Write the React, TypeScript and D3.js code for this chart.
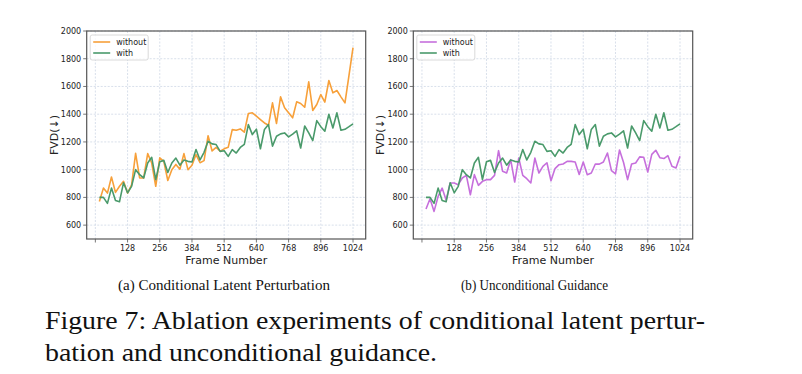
import React from "react";
import * as d3 from "d3";

const frames: number[] = Array.from({ length: 64 }, (_, i) => (i + 1) * 16);

const withSeries: number[] = [
  800, 800, 757, 867, 778, 769, 906, 833, 880, 1000,
  964, 940, 1048, 1089, 928, 1057, 1067, 980, 1048, 1084,
  1032, 1070, 1060, 1055, 1145, 1070, 1125, 1205, 1186, 1181,
  1132, 1137, 1096, 1144, 1120, 1160, 1183, 1325, 1253, 1292,
  1151, 1290, 1325, 1170, 1241, 1258, 1265, 1236, 1256, 1280,
  1156, 1315, 1265, 1210, 1354, 1310, 1277, 1400, 1301, 1410,
  1284, 1291, 1310, 1330,
];

const withoutPerturbation: number[] = [
  771, 867, 831, 947, 836, 880, 916, 831, 890, 1118,
  940, 940, 1116, 1048, 880, 1085, 1060, 922, 1000, 1038,
  1003, 1116, 1000, 1032, 1109, 1050, 1065, 1245, 1135, 1160,
  1133, 1150, 1161, 1289, 1284, 1294, 1270, 1405, 1410, 1386,
  1361, 1337, 1320, 1482, 1333, 1525, 1446, 1410, 1374, 1489,
  1477, 1450, 1634, 1427, 1470, 1542, 1487, 1643, 1554, 1571,
  1525, 1482, 1680, 1880,
];

const withoutGuidance: number[] = [
  716, 790, 699, 807, 867, 780, 904, 904, 892, 940,
  959, 819, 964, 887, 916, 928, 928, 959, 1137, 988,
  976, 1072, 911, 1084, 959, 935, 904, 1084, 976, 1024,
  1050, 920, 1008, 1036, 1041, 1060, 1060, 1055, 966, 1055,
  964, 976, 1041, 1040, 1055, 1120, 993, 970, 1142, 1052,
  928, 1041, 1048, 1092, 1089, 983, 1110, 1140, 1086, 1080,
  1101, 1024, 1012, 1096,
];

const xTicks: number[] = [0, 128, 256, 384, 512, 640, 768, 896, 1024];
const yTicks: number[] = [600, 800, 1000, 1200, 1400, 1600, 1800, 2000];
const legendLabels: string[] = ["without", "with"];
const subCaptions: string[] = ["(a) Conditional Latent Perturbation", "(b) Unconditional Guidance"];

const ORANGE = "#f7a03a";
const GREEN = "#4a9a6b";
const PURPLE = "#c66fdc";
const SANS = "DejaVu Sans, sans-serif";
const SERIF = "Liberation Serif, Times New Roman, serif";

type PanelProps = {
  left: number;
  right: number;
  without: number[];
  withoutColor: string;
};

function Panel({ left, right, without, withoutColor }: PanelProps) {
  const top = 31;
  const bottom = 239;
  const x = d3.scaleLinear().domain([-34.4, 1074.4]).range([left, right]);
  const y = d3.scaleLinear().domain([500, 2000]).range([bottom, top]);
  const line = d3
    .line<number>()
    .x((_, i) => x(frames[i]))
    .y((d) => y(d));
  const gridColor = "#cfd8e6";
  const spine = "#555";
  const lx = left + 3.5;
  return (
    <g>
      {xTicks.map((t) => (
        <line key={"gx" + t} x1={x(t)} x2={x(t)} y1={top} y2={bottom} stroke={gridColor} strokeWidth={0.8} strokeDasharray="2,1.5" />
      ))}
      {yTicks.map((t) => (
        <line key={"gy" + t} x1={left} x2={right} y1={y(t)} y2={y(t)} stroke={gridColor} strokeWidth={0.8} strokeDasharray="2,1.5" />
      ))}
      <path d={line(without) || ""} fill="none" stroke={withoutColor} strokeWidth={1.6} strokeLinejoin="round" />
      <path d={line(withSeries) || ""} fill="none" stroke={GREEN} strokeWidth={1.6} strokeLinejoin="round" />
      <rect x={left} y={top} width={right - left} height={bottom - top} fill="none" stroke={spine} strokeWidth={1.2} />
      {xTicks.map((t) => (
        <g key={"tx" + t}>
          <line x1={x(t)} x2={x(t)} y1={bottom} y2={bottom + 3.5} stroke={spine} strokeWidth={0.8} />
          <text x={x(t)} y={bottom + 12} textAnchor="middle" fontSize={8} fontFamily={SANS} fill="#222">
            {t === 0 ? "" : String(t)}
          </text>
        </g>
      ))}
      {yTicks.map((t) => (
        <g key={"ty" + t}>
          <line x1={left - 3.5} x2={left} y1={y(t)} y2={y(t)} stroke={spine} strokeWidth={0.8} />
          <text x={left - 5.5} y={y(t) + 3} textAnchor="end" fontSize={8} fontFamily={SANS} fill="#222">
            {String(t)}
          </text>
        </g>
      ))}
      <text x={(left + right) / 2} y={264} textAnchor="middle" fontSize={11} fontFamily={SANS} fill="#222">
        Frame Number
      </text>
      <text
        transform={`translate(${left - 29},${(top + bottom) / 2}) rotate(-90)`}
        textAnchor="middle"
        fontSize={11}
        fontFamily={SANS}
        fill="#222"
      >
        FVD(↓)
      </text>
      <rect x={lx} y={35} width={58} height={25} rx={2} fill="white" fillOpacity={0.8} stroke="#d0d0d0" strokeWidth={0.8} />
      {legendLabels.map((lab, i) => (
        <g key={lab}>
          <line x1={lx + 3} x2={lx + 20} y1={42 + i * 11} y2={42 + i * 11} stroke={i === 0 ? withoutColor : GREEN} strokeWidth={1.6} />
          <text x={lx + 26} y={45 + i * 11} fontSize={8} fontFamily={SANS} fill="#222">
            {lab}
          </text>
        </g>
      ))}
    </g>
  );
}

export default function App() {
  return (
    <svg
      width={802}
      height={374}
      style={{ position: "absolute", left: 0, top: 0, background: "white" }}
    >
      <rect x={0} y={0} width={802} height={374} fill="white" />
      <Panel left={86.7} right={365.7} without={withoutPerturbation} withoutColor={ORANGE} />
      <Panel left={413.3} right={692.7} without={withoutGuidance} withoutColor={PURPLE} />
      <text x={224} y={290} textAnchor="middle" fontSize={14} fontFamily={SERIF} fill="#111" textLength={212} lengthAdjust="spacingAndGlyphs">
        {subCaptions[0]}
      </text>
      <text x={534.5} y={290} textAnchor="middle" fontSize={14} fontFamily={SERIF} fill="#111" textLength={147} lengthAdjust="spacingAndGlyphs">
        {subCaptions[1]}
      </text>
      <text x={45} y={329} fontSize={26} fontFamily={SERIF} fill="#111" textLength={660} lengthAdjust="spacingAndGlyphs">
        Figure 7: Ablation experiments of conditional latent pertur-
      </text>
      <text x={45} y={361} fontSize={26} fontFamily={SERIF} fill="#111" textLength={392} lengthAdjust="spacingAndGlyphs">
        bation and unconditional guidance.
      </text>
    </svg>
  );
}
